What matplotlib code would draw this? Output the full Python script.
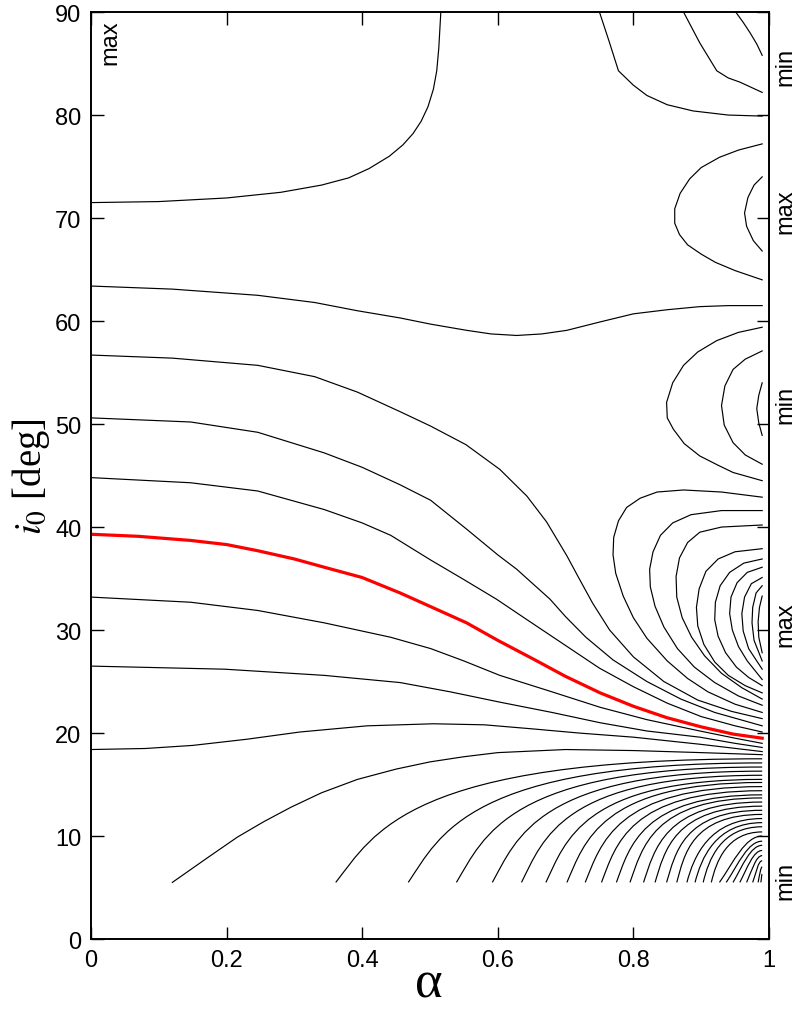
import matplotlib
matplotlib.use('Agg')
import matplotlib.pyplot as plt
from matplotlib.path import Path
from matplotlib.patches import PathPatch

plt.rcParams['font.family'] = ['Liberation Sans', 'DejaVu Sans']
plt.rcParams['mathtext.fontset'] = 'stix'

# contour lines, as (alpha, i0) point lists
curve_71 = ([0, 0.10, 0.20, 0.28, 0.34, 0.38, 0.41, 0.44, 0.46, 0.475, 0.487, 0.497, 0.505, 0.510, 0.513, 0.516],
            [71.5, 71.6, 71.95, 72.5, 73.2, 73.9, 74.8, 76.0, 77.1, 78.2, 79.4, 80.8, 82.5, 84.3, 86.5, 90])
curve_63 = ([0, 0.12, 0.246, 0.33, 0.393, 0.456, 0.501, 0.554, 0.59, 0.628, 0.665, 0.702, 0.75, 0.80, 0.85, 0.898, 0.94, 0.99],
            [63.4, 63.1, 62.5, 61.8, 61.0, 60.3, 59.7, 59.1, 58.75, 58.6, 58.75, 59.1, 59.9, 60.7, 61.1, 61.4, 61.5, 61.5])
curve_57 = ([0, 0.12, 0.246, 0.33, 0.393, 0.456, 0.501, 0.553, 0.603, 0.643, 0.672, 0.702, 0.72, 0.74, 0.765, 0.80, 0.845, 0.895, 0.945, 0.99],
            [56.7, 56.4, 55.7, 54.6, 53.1, 51.2, 49.8, 48.0, 45.6, 43.0, 40.5, 37.2, 35.0, 32.6, 30.0, 27.4, 25.0, 23.2, 22.1, 21.4])
curve_51 = ([0, 0.147, 0.246, 0.344, 0.40, 0.456, 0.501, 0.554, 0.60, 0.628, 0.655, 0.677, 0.70, 0.73, 0.77, 0.82, 0.87, 0.92, 0.99],
            [50.6, 50.2, 49.2, 47.2, 45.8, 44.1, 42.6, 39.8, 37.3, 35.9, 34.3, 33.0, 31.3, 29.3, 27.1, 25.0, 23.3, 22.0, 20.7])
curve_45 = ([0, 0.147, 0.246, 0.344, 0.40, 0.442, 0.501, 0.55, 0.598, 0.65, 0.70, 0.75, 0.80, 0.85, 0.90, 0.95, 0.99],
            [44.8, 44.3, 43.5, 41.7, 40.4, 39.2, 36.8, 34.9, 33.0, 30.7, 28.5, 26.3, 24.5, 22.9, 21.6, 20.7, 20.1])
curve_red = ([0, 0.07, 0.147, 0.20, 0.246, 0.30, 0.344, 0.40, 0.456, 0.50, 0.554, 0.60, 0.652, 0.70, 0.751, 0.80, 0.849, 0.90, 0.947, 0.99],
             [39.3, 39.1, 38.7, 38.3, 37.7, 36.9, 36.1, 35.1, 33.6, 32.3, 30.7, 29.0, 27.2, 25.5, 23.9, 22.6, 21.5, 20.6, 19.9, 19.5])
curve_33 = ([0, 0.147, 0.246, 0.344, 0.442, 0.501, 0.55, 0.603, 0.68, 0.751, 0.82, 0.898, 0.95, 0.99],
            [33.2, 32.7, 31.9, 30.7, 29.3, 28.2, 27.0, 25.6, 24.0, 22.5, 21.3, 20.2, 19.5, 19.0])
curve_27 = ([0, 0.197, 0.344, 0.456, 0.53, 0.603, 0.68, 0.751, 0.82, 0.898, 0.95, 0.99],
            [26.5, 26.2, 25.6, 24.9, 24.0, 23.0, 22.0, 21.0, 20.2, 19.6, 19.0, 18.6])
curve_18 = ([0, 0.08, 0.15, 0.23, 0.308, 0.407, 0.505, 0.58, 0.652, 0.72, 0.80, 0.90, 0.99],
            [18.4, 18.5, 18.8, 19.4, 20.1, 20.7, 20.9, 20.8, 20.4, 20.0, 19.6, 18.9, 18.2])
curve_fan1 = ([0.12, 0.172, 0.216, 0.255, 0.295, 0.34, 0.393, 0.45, 0.50, 0.55, 0.60, 0.70, 0.80, 0.90, 0.99],
              [5.5, 7.9, 9.9, 11.4, 12.8, 14.2, 15.5, 16.5, 17.2, 17.7, 18.1, 18.4, 18.3, 18.1, 17.9])

# nested loops around the extremum at i0 ~ 30 (open to the right edge)
loop_c1 = ([0.99, 0.93, 0.874, 0.835, 0.81, 0.79, 0.778, 0.771, 0.770, 0.774, 0.785, 0.80, 0.82, 0.85, 0.88, 0.91, 0.95, 0.99],
           [42.9, 43.4, 43.6, 43.4, 42.8, 41.9, 40.6, 39.0, 37.3, 35.5, 33.3, 31.2, 29.2, 27.0, 25.3, 24.0, 22.8, 22.0])
loop_c2 = ([0.99, 0.93, 0.885, 0.858, 0.840, 0.829, 0.824, 0.825, 0.832, 0.845, 0.865, 0.89, 0.92, 0.955, 0.99],
           [41.6, 41.6, 41.2, 40.4, 39.2, 37.6, 35.9, 34.2, 32.3, 30.3, 28.2, 26.4, 24.9, 23.6, 22.7])
loop_c3 = ([0.99, 0.93, 0.898, 0.880, 0.868, 0.863, 0.864, 0.872, 0.886, 0.905, 0.93, 0.96, 0.99],
           [40.2, 40.0, 39.5, 38.5, 37.0, 35.2, 33.2, 31.2, 29.3, 27.5, 25.8, 24.4, 23.3])
loop_c4 = ([0.99, 0.95, 0.925, 0.907, 0.897, 0.893, 0.895, 0.904, 0.92, 0.94, 0.965, 0.99],
           [37.9, 37.6, 36.9, 35.7, 34.0, 32.2, 30.4, 28.6, 26.9, 25.6, 24.6, 23.9])
loop_c5 = ([0.99, 0.963, 0.942, 0.928, 0.921, 0.920, 0.925, 0.936, 0.952, 0.97, 0.99],
           [36.9, 36.5, 35.6, 34.3, 32.7, 31.0, 29.4, 27.8, 26.4, 25.4, 24.6])
loop_c6 = ([0.99, 0.968, 0.953, 0.944, 0.942, 0.946, 0.955, 0.968, 0.99],
           [36.1, 35.6, 34.6, 33.2, 31.6, 30.0, 28.4, 27.0, 25.2])
loop_c7 = ([0.99, 0.974, 0.964, 0.960, 0.962, 0.970, 0.99],
           [35.1, 34.5, 33.2, 31.6, 29.9, 28.2, 26.2])
loop_c8 = ([0.99, 0.981, 0.976, 0.975, 0.978, 0.99],
           [34.3, 33.6, 32.2, 30.7, 29.0, 27.0])
loop_c9 = ([0.99, 0.986, 0.984, 0.985, 0.99],
           [33.3, 32.2, 30.8, 29.3, 27.8])

# loops around the minimum at i0 ~ 52
loop_m1 = ([0.99, 0.955, 0.923, 0.895, 0.874, 0.858, 0.849, 0.850, 0.859, 0.875, 0.898, 0.925, 0.947, 0.99],
           [59.4, 58.9, 58.1, 57.0, 55.7, 54.0, 52.1, 50.6, 49.5, 48.1, 46.9, 46.0, 45.3, 44.5])
loop_m2 = ([0.99, 0.965, 0.947, 0.935, 0.930, 0.934, 0.947, 0.965, 0.99],
           [57.1, 56.3, 55.3, 53.7, 51.8, 49.9, 48.2, 47.0, 46.1])
loop_m3 = ([0.99, 0.985, 0.982, 0.985, 0.99],
           [54.0, 52.8, 51.5, 50.1, 48.9])

# loops around the maximum at i0 ~ 71
loop_x1 = ([0.99, 0.955, 0.927, 0.90, 0.883, 0.869, 0.861, 0.861, 0.868, 0.880, 0.90, 0.921, 0.95, 0.99],
           [77.2, 76.6, 75.9, 74.9, 73.8, 72.4, 70.9, 69.5, 68.4, 67.4, 66.5, 65.7, 64.9, 64.0])
loop_x2 = ([0.99, 0.978, 0.969, 0.964, 0.967, 0.977, 0.99],
           [74.0, 73.2, 72.0, 70.5, 69.2, 67.8, 66.8])

# lines coming down from the top edge
top_1 = ([0.750, 0.764, 0.778, 0.80, 0.820, 0.85, 0.888, 0.94, 0.99],
         [90, 87.2, 84.3, 82.9, 81.9, 81.0, 80.4, 80.0, 79.9])
top_2 = ([0.874, 0.898, 0.923, 0.94, 0.957, 0.99], [90, 87.0, 84.3, 83.6, 83.2, 82.2])
top_3 = ([0.951, 0.962, 0.972, 0.982, 0.99], [90, 89.0, 88.0, 86.9, 85.8])

black_curves = [curve_71, curve_63, curve_57, curve_51, curve_45, curve_33, curve_27,
                curve_18, curve_fan1, loop_c1, loop_c2, loop_c3, loop_c4, loop_c5,
                loop_c6, loop_c7, loop_c8, loop_c9, loop_m1, loop_m2, loop_m3,
                loop_x1, loop_x2, top_1, top_2, top_3]

# fan of lines from the lower edge (i0 = 5.5) to the right edge,
# each one drawn as a cubic curve with two control points
fan_start = [0.361, 0.468, 0.539, 0.592, 0.635, 0.671, 0.702, 0.729, 0.753, 0.775,
             0.795, 0.815, 0.832, 0.849, 0.864, 0.879, 0.891, 0.903, 0.915, 0.927,
             0.937, 0.947, 0.957, 0.967, 0.976, 0.984, 0.988]
fan_end = [17.5, 17.1, 16.7, 16.3, 15.9, 15.5, 15.2, 14.8, 14.4, 14.0,
           13.7, 13.3, 12.9, 12.5, 12.1, 11.7, 11.3, 10.9, 10.4, 10.0,
           9.5, 9.1, 8.6, 8.1, 7.6, 7.0, 6.3]
fan_c1a = [0.418, 0.515, 0.580, 0.628, 0.667, 0.700, 0.728, 0.752, 0.774, 0.794,
           0.813, 0.831, 0.846, 0.862, 0.875, 0.889, 0.900, 0.911, 0.922, 0.948,
           0.955, 0.961, 0.968, 0.975, 0.981, 0.986, 0.989]
fan_c1i = [10.3, 10.1, 10.0, 9.8, 9.7, 9.5, 9.4, 9.2, 9.1, 8.9,
           8.8, 8.6, 8.5, 8.3, 8.1, 8.0, 7.8, 7.7, 7.5, 7.5,
           7.3, 7.1, 6.9, 6.7, 6.4, 6.2, 5.8]
fan_c2a = [0.468, 0.557, 0.616, 0.660, 0.695, 0.725, 0.751, 0.773, 0.793, 0.812,
           0.828, 0.845, 0.859, 0.873, 0.885, 0.912, 0.921, 0.929, 0.938, 0.965,
           0.969, 0.973, 0.977, 0.981, 0.984, 0.988, 0.989]
fan_bottom = 5.5
right_edge = 0.99

fig = plt.figure(figsize=(8.01, 10.12), dpi=100)
ax = fig.add_axes([0.1136, 0.0711, 0.8464, 0.9160])

for xs, ys in black_curves:
    ax.plot(xs, ys, color='black', lw=0.85)

for a0, ie, c1a, c1i, c2a in zip(fan_start, fan_end, fan_c1a, fan_c1i, fan_c2a):
    p = Path([(a0, fan_bottom), (c1a, c1i), (c2a, ie), (right_edge, ie)],
             [Path.MOVETO, Path.CURVE4, Path.CURVE4, Path.CURVE4])
    ax.add_patch(PathPatch(p, fill=False, edgecolor='black', lw=0.85))

ax.plot(curve_red[0], curve_red[1], color='red', lw=2.3)

ax.set_xlim(0, 1)
ax.set_ylim(0, 90)
ax.set_xticks([0, 0.2, 0.4, 0.6, 0.8, 1])
ax.set_xticklabels(['0', '0.2', '0.4', '0.6', '0.8', '1'])
ax.set_yticks(range(0, 91, 10))
ax.tick_params(direction='in', length=9, width=1, top=True, right=True,
               labelsize=17, pad=7)
for s in ax.spines.values():
    s.set_linewidth(1.4)

fig.text(429 / 801, 1 - 998 / 1012, 'α', fontsize=38, family='Liberation Serif',
         ha='center', va='baseline')
ax.set_ylabel(r'$i_0$ [deg]', fontsize=28, family='Liberation Serif', labelpad=2)

# extremum labels
ax.text(0.028, 87.1, 'max', rotation=90, fontsize=17, ha='center', va='center')
side = [(84.8, 'min'), (70.7, 'max'), (52.0, 'min'), (30.6, 'max'), (5.7, 'min')]
for yv, t in side:
    ax.text(1.024, yv, t, rotation=90, fontsize=17, ha='center', va='center',
            clip_on=False)

fig.savefig('out.png', dpi=100)
